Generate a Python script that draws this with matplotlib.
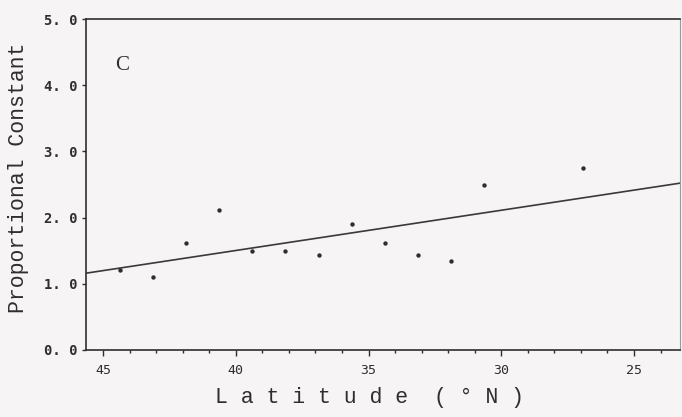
"""
proportional constant vs latitude (panel C)
outputs: out.png
"""

import numpy as np
import matplotlib.pyplot as plt
from matplotlib.ticker import MultipleLocator, FixedLocator

# -- DATA --
latitude = [44.36, 43.13, 41.88, 40.63, 39.39, 38.13, 36.88, 35.64,
            34.37, 33.12, 31.89, 30.64, 26.92]
prop_const = [1.21, 1.10, 1.61, 2.11, 1.50, 1.50, 1.44, 1.90,
              1.61, 1.44, 1.35, 2.49, 2.75]

# regression line  y = a + b * lat
fit_a = 3.935
fit_b = -0.0608

x_ticks = [45, 40, 35, 30, 25]
y_ticks = [0.0, 1.0, 2.0, 3.0, 4.0, 5.0]
y_tick_labels = ["0. 0", "1. 0", "2. 0", "3. 0", "4. 0", "5. 0"]

X_LIM = (45.64, 23.27)
Y_LIM = (0.0, 5.0)

# -- STYLE --
BG = "#f6f4f5"
INK = "#2e2e2e"
mono = "Liberation Mono"
tick_font = "DejaVu Sans Mono"

# -- PLOT --
fig = plt.figure(figsize=(6.82, 4.17), dpi=100, facecolor=BG)
ax = fig.add_axes([0.1261, 0.1607, 0.997 - 0.1261, 0.9544 - 0.1607])
ax.set_facecolor(BG)

ax.scatter(latitude, prop_const, s=10, color=INK, zorder=3, linewidths=0)

xs = np.array(X_LIM)
ax.plot(xs, fit_a + fit_b * xs, color="#3a3a3a", linewidth=1.2, zorder=2)

ax.set_xlim(*X_LIM)
ax.set_ylim(*Y_LIM)

ax.xaxis.set_major_locator(FixedLocator(x_ticks))
ax.xaxis.set_minor_locator(MultipleLocator(1))
ax.set_xticklabels([str(t) for t in x_ticks])
ax.set_yticks(y_ticks)
ax.set_yticklabels(y_tick_labels)

ax.tick_params(axis="x", which="major", direction="out", length=4, width=1.0,
               color=INK, pad=6)
ax.tick_params(axis="x", which="minor", direction="out", length=2, width=1.0,
               color=INK)
ax.tick_params(axis="y", which="major", direction="out", length=3, width=1.0,
               color=INK, pad=3)

for lab in ax.get_xticklabels():
    lab.set_fontfamily(tick_font)
    lab.set_fontsize(9.5)
    lab.set_color(INK)
for lab in ax.get_yticklabels():
    lab.set_fontfamily(tick_font)
    lab.set_fontweight("bold")
    lab.set_fontsize(10)
    lab.set_color(INK)

for side in ["left", "bottom", "top"]:
    ax.spines[side].set_color(INK)
    ax.spines[side].set_linewidth(1.2)
ax.spines["right"].set_color("#9a9a9a")
ax.spines["right"].set_linewidth(0.8)

ax.set_ylabel("Proportional Constant", family=mono, fontsize=15.5,
              color=INK)
ax.yaxis.set_label_coords(-0.096, 0.52)
ax.set_xlabel("L a t i t u d e  ( \u00b0 N )", family=mono, fontsize=15.5,
              color=INK)
ax.xaxis.set_label_coords(0.477, -0.112)
ax.xaxis.label.set_va("top")

ax.text(0.060, 0.861, "C", transform=ax.transAxes, family="Liberation Serif",
        fontsize=15, color=INK, ha="center", va="center")

# -- SAVE --
fig.savefig("out.png", dpi=100, facecolor=BG)
plt.close(fig)
